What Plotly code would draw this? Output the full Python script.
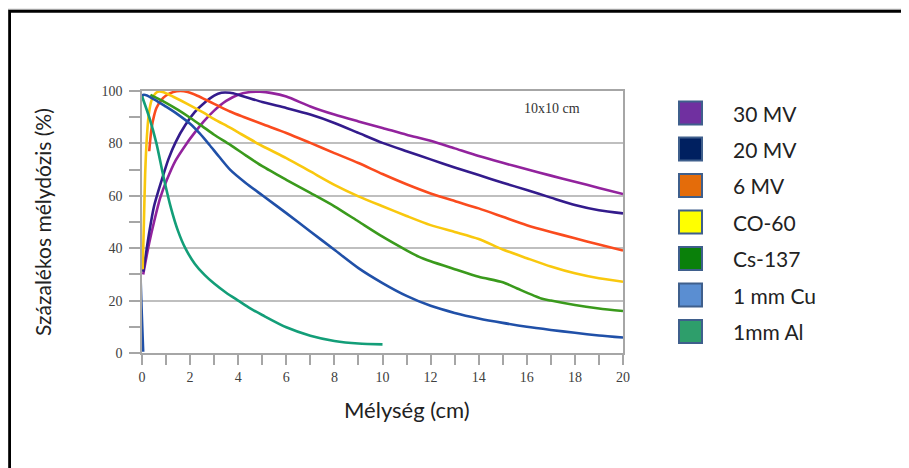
import plotly.graph_objects as go

# ---------------- data ----------------
series_names = ["30 MV", "20 MV", "6 MV", "CO-60", "Cs-137", "1 mm Cu", "1mm Al"]

depth_30 = [0.05, 0.15, 0.3, 0.5, 0.75, 1.03, 1.4, 1.86, 2.2, 2.55, 3.0, 3.5, 4.0, 4.5, 4.9,
            5.4, 6.0, 7.0, 8.0, 9.0, 10.0, 11.0, 12.0, 13.0, 14.0, 15.0, 16.0, 17.0, 18.0, 19.0, 20.0]
pdd_30 = [30, 35, 42, 50, 59, 66, 73.5, 80, 84.2, 88.2, 92.5, 96.2, 98.6, 99.6, 99.7,
          99.2, 97.9, 94.1, 91, 88.4, 85.9, 83.3, 81, 78.1, 75.2, 72.6, 70.1, 67.7, 65.4, 63, 60.7]

depth_20 = [0.05, 0.15, 0.3, 0.5, 0.82, 1.1, 1.4, 1.8, 2.2, 2.6, 3.0, 3.3, 3.66, 4.0, 5.0,
            6.0, 7.0, 8.0, 9.0, 10.0, 11.0, 12.0, 13.0, 14.0, 15.0, 16.0, 17.0, 18.0, 19.0, 20.0]
pdd_20 = [31, 37, 46, 56, 66, 74, 80.5, 87, 92, 95.5, 98.2, 99.3, 99.3, 98.6, 95.8,
          93.5, 91, 87.8, 84, 80.2, 77, 73.9, 70.8, 67.9, 65, 62.2, 59.3, 56.5, 54.5, 53.3]

depth_6 = [0.3, 0.35, 0.4, 0.5, 0.6, 0.8, 1.0, 1.3, 1.6, 1.9, 2.3, 2.8, 3.2, 3.66, 4.2,
           5, 6, 7, 8, 9, 10, 11, 12, 13, 14, 15, 16, 17, 18, 19, 20]
pdd_6 = [77, 82, 86, 90.5, 93.5, 96.5, 98.3, 99.6, 100, 99.6, 98.2, 96, 94.2, 92.2, 90.2,
         87.4, 84, 80.2, 76.3, 72.5, 68.3, 64.4, 60.9, 58, 55.2, 52, 48.8, 46.2, 43.8, 41.4, 39.1]

depth_co = [0.03, 0.08, 0.13, 0.2, 0.28, 0.4, 0.55, 0.7, 0.9, 1.3, 1.9, 2.5, 3.0, 3.66, 4.0,
            5, 6, 7, 8, 9, 10, 11, 12, 13, 14, 15, 16, 17, 18, 19, 20]
pdd_co = [32, 50, 68, 82, 91, 96.5, 99, 99.8, 99.5, 97.8, 95, 92, 89.3, 86, 84.2,
          79, 74.4, 69.3, 64.2, 59.8, 56, 52.3, 48.8, 46.2, 43.5, 39.5, 36.2, 33, 30.4, 28.5, 27.2]

depth_cs = [0.35, 1.0, 1.5, 2.0, 2.5, 3.0, 3.66, 4.3, 5, 6, 7, 8, 9, 10, 11, 11.5, 12, 13, 14, 15,
            15.6, 16.6, 17, 18, 19, 20]
pdd_cs = [98.5, 95.5, 92.8, 89.8, 86.6, 83.3, 79.5, 75.5, 71.3, 66.1, 61.1, 56, 50.2, 44.4, 39.2,
          36.8, 35, 32, 29.1, 27, 24.6, 20.8, 20, 18.3, 17, 16]

depth_cu = [0.05, 0.05, 0.5, 1.0, 1.5, 2.0, 2.4, 2.8, 3.2, 3.66, 4.3, 5, 6, 7, 8, 9, 10, 11,
            12, 13, 14, 15, 16, 17, 18, 19, 20]
pdd_cu = [0.5, 98.5, 96.8, 94, 91, 87.5, 83.8, 79.5, 75, 70, 65, 60.2, 53.4, 46.4, 39.4,
          32.4, 26.7, 21.8, 18, 15.3, 13.2, 11.5, 10, 8.8, 7.7, 6.7, 5.9]

depth_al = [0.0, 0.3, 0.6, 0.9, 1.2, 1.5, 1.8, 2.2, 2.6, 3.0, 3.5, 4.0, 4.5, 5, 6, 7, 8, 9, 10]
pdd_al = [98, 90, 80, 67, 55.5, 46.5, 40, 34, 29.8, 26.5, 23, 20, 17, 14.5, 9.8, 6.6, 4.6, 3.6, 3.3]

x_tick_values = [0, 2, 4, 6, 8, 10, 12, 14, 16, 18, 20]
y_tick_values = [0, 20, 40, 60, 80, 100]

# ---------------- styles ----------------
line_colors = ["#92239D", "#331B8C", "#FA4B1E", "#F9C80E", "#3A9A1C", "#2050A8", "#139E78"]
legend_fills = ["#7030A0", "#002060", "#E46C0A", "#FFFF00", "#0A800A", "#5A8ED2", "#2E9E6B"]

# the page body has an 8px margin; figure is sized to fill the 909x468 window
OFF = 8
W, H = 909 - OFF, 468 - OFF
L, R, T, B = 142 - OFF, 286, 91 - OFF, 115
PW = W - L - R
PH = H - T - B


def pxx(x):
    """page x pixel -> paper coordinate"""
    return (x - OFF - L) / PW


def pxy(y):
    """page y pixel -> paper coordinate"""
    return (H - B - (y - OFF)) / PH


SANS = "Lato, Carlito, Calibri, sans-serif"
SERIF = "Liberation Serif, Times New Roman, serif"

series = [
    (depth_30, pdd_30),
    (depth_20, pdd_20),
    (depth_6, pdd_6),
    (depth_co, pdd_co),
    (depth_cs, pdd_cs),
    (depth_cu, pdd_cu),
    (depth_al, pdd_al),
]

fig = go.Figure()
for name, (xs, ys), col in zip(series_names, series, line_colors):
    fig.add_trace(go.Scatter(
        x=xs, y=ys, name=name, mode="lines",
        line=dict(color=col, width=2.6, shape="spline", smoothing=0.7),
        showlegend=False, hoverinfo="skip",
    ))

fig.update_layout(
    width=W, height=H,
    margin=dict(l=L, r=R, t=T, b=B, pad=0),
    paper_bgcolor="white", plot_bgcolor="white",
    showlegend=False,
    font=dict(family=SERIF, size=14, color="#404040"),
)

fig.update_xaxes(
    range=[0, 20], tickvals=x_tick_values, ticks="outside", ticklen=10, tickwidth=1.5,
    tickcolor="#A6A6A6", showgrid=False, zeroline=False,
    showline=True, linecolor="#A6A6A6", linewidth=1.5, mirror=True,
    minor=dict(dtick=1, ticks="outside", ticklen=10, tickwidth=1.5, tickcolor="#A6A6A6", showgrid=False),
    tickfont=dict(family=SERIF, size=14, color="#404040"),
)
fig.update_yaxes(
    range=[0, 100], tickvals=y_tick_values, ticks="outside", ticklen=11, tickwidth=1.5,
    tickcolor="#A6A6A6", showgrid=True, gridcolor="#BFBFBF", gridwidth=1.5, zeroline=False,
    showline=True, linecolor="#A6A6A6", linewidth=1.5, mirror=True,
    minor=dict(dtick=10, ticks="outside", ticklen=11, tickwidth=1.5, tickcolor="#A6A6A6", showgrid=False),
    tickfont=dict(family=SERIF, size=14, color="#404040"),
    ticklabelstandoff=4,
)

annotations = []
shapes = []

# axis titles
annotations.append(dict(text="Mélység (cm)", x=pxx(407), y=pxy(409), xref="paper", yref="paper",
                        xanchor="center", yanchor="middle",
                        showarrow=False, font=dict(family=SANS, size=22, color="#222222")))
annotations.append(dict(text="Százalékos mélydózis (%)", x=pxx(42), y=pxy(222), xref="paper", yref="paper",
                        xanchor="center", yanchor="middle",
                        showarrow=False, textangle=-90, font=dict(family=SANS, size=21, color="#222222")))
# field size label
annotations.append(dict(text="10x10 cm", x=17.05, y=93.2, xref="x", yref="y", showarrow=False,
                        xanchor="center", yanchor="middle",
                        font=dict(family=SERIF, size=14, color="#333333")))

# manual legend with square swatches
legend_y = [113, 149, 185.5, 222, 258.5, 295, 331.5]
for name, fill, yc in zip(series_names, legend_fills, legend_y):
    shapes.append(dict(type="rect", xref="paper", yref="paper",
                       x0=pxx(679), x1=pxx(702), y0=pxy(yc + 11.5), y1=pxy(yc - 11.5),
                       fillcolor=fill, line=dict(color="#3F5F8C", width=2)))
    annotations.append(dict(text=name, x=pxx(731), y=pxy(yc), xref="paper", yref="paper",
                            xanchor="left", yanchor="middle", showarrow=False,
                            font=dict(family=SANS, size=21, color="#222222")))

# outer black frame (open on the right and bottom, beyond the page)
shapes.append(dict(type="rect", xref="paper", yref="paper",
                   x0=pxx(9.5), x1=pxx(940), y0=pxy(500), y1=pxy(11.2),
                   line=dict(color="#000000", width=3), fillcolor="rgba(0,0,0,0)", layer="above"))
shapes.append(dict(type="rect", xref="paper", yref="paper",
                   x0=pxx(7.8), x1=pxx(942), y0=pxy(502), y1=pxy(9.3),
                   line=dict(color="#9A9A9A", width=1), fillcolor="rgba(0,0,0,0)", layer="above"))

fig.update_layout(annotations=annotations, shapes=shapes)

fig.write_html("out.html")
